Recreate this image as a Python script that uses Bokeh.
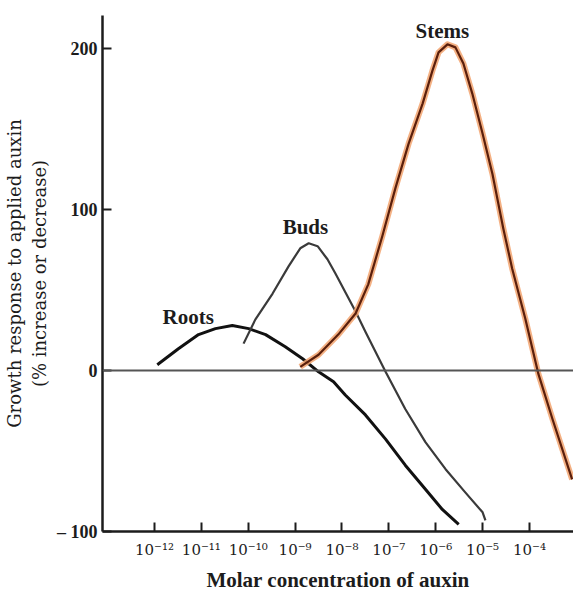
from bokeh.plotting import figure
from bokeh.models import Span, FixedTicker, ColumnDataSource
from bokeh.core.properties import value
from bokeh.embed import file_html
from bokeh.resources import INLINE

# log10 of molar auxin concentration vs growth response (%)
roots_logc = [-11.94, -11.49, -11.06, -10.70, -10.34, -9.99, -9.63, -9.21, -8.84, -8.50, -8.18,
              -7.93, -7.50, -7.07, -6.65, -6.22, -5.86, -5.51]
roots_resp = [3.6, 13.5, 22.3, 26.0, 27.9, 26.0, 22.3, 14.8, 7.3, -0.8, -7.0,
              -15.2, -27.6, -42.6, -58.8, -73.8, -86.3, -95.6]

buds_logc = [-10.10, -9.85, -9.48, -9.14, -8.89, -8.71, -8.52, -8.31, -8.14, -7.71, -7.50,
             -7.07, -6.65, -6.22, -5.79, -5.37, -5.00, -4.94]
buds_resp = [16.7, 31.6, 47.8, 64.7, 75.9, 79.0, 77.2, 69.1, 60.3, 36.6, 24.1,
             -0.8, -23.9, -44.5, -61.3, -75.7, -88.1, -93.1]

stems_logc = [-8.89, -8.50, -8.08, -7.71, -7.44, -7.14, -6.86, -6.58, -6.28, -6.07, -5.94, -5.75,
              -5.58, -5.41, -5.22, -5.00, -4.79, -4.56, -4.37, -4.09, -3.81, -3.51, -3.09]
stems_resp = [2.3, 9.8, 22.3, 35.4, 53.5, 83.4, 113.3, 140.8, 165.8, 186.3, 197.6, 202.6,
              200.7, 190.7, 172.0, 147.0, 122.1, 88.4, 63.4, 32.3, -2.1, -30.1, -67.6]

label_text = ["Roots", "Buds", "Stems"]
label_x = [-11.28, -8.78, -5.86]
label_y = [33.5, 89.0, 211.0]

x_ticks = [-12, -11, -10, -9, -8, -7, -6, -5, -4]
x_tick_labels = ["10⁻¹²", "10⁻¹¹", "10⁻¹⁰", "10⁻⁹", "10⁻⁸", "10⁻⁷", "10⁻⁶", "10⁻⁵", "10⁻⁴"]
y_ticks = [-100, 0, 100, 200]
y_tick_labels = ["– 100", "0", "100", "200"]

INK = "#1c1c1c"

p = figure(frame_width=471, frame_height=516,
           x_range=(-13.109, -3.061), y_range=(-100, 220.5),
           output_backend="svg", toolbar_location=None,
           min_border_left=99, min_border_right=0, min_border_top=15, min_border_bottom=55,
           background_fill_color="white", border_fill_color="white")
p.grid.visible = False
p.outline_line_color = None

for ax in (p.xaxis[0], p.yaxis[0]):
    ax.axis_line_width = 2.5
    ax.axis_line_color = INK
    ax.major_tick_line_color = INK
    ax.major_tick_line_width = 2
    ax.major_tick_in = 9
    ax.major_tick_out = 0
    ax.minor_tick_line_color = None
    ax.major_label_text_color = INK
    ax.axis_label_text_color = INK

p.xaxis.ticker = FixedTicker(ticks=x_ticks)
p.xaxis.major_label_overrides = dict(zip(x_ticks, x_tick_labels))
p.xaxis.major_label_text_font = "DejaVu Serif"
p.xaxis.major_label_text_font_size = "15px"
p.xaxis.major_label_standoff = 9
p.xaxis.axis_label = "Molar concentration of auxin"
p.xaxis.axis_label_text_font = "Liberation Serif"
p.xaxis.axis_label_text_font_style = "bold"
p.xaxis.axis_label_text_font_size = "21px"
p.xaxis.axis_label_standoff = 6

p.yaxis.ticker = FixedTicker(ticks=y_ticks)
p.yaxis.major_label_overrides = dict(zip(y_ticks, y_tick_labels))
p.yaxis.major_label_text_font = "Liberation Serif"
p.yaxis.major_label_text_font_style = "bold"
p.yaxis.major_label_text_font_size = "18px"
p.yaxis.major_label_standoff = 5
p.yaxis.axis_label = "Growth response to applied auxin\n(% increase or decrease)"
p.yaxis.axis_label_text_font = "DejaVu Serif"
p.yaxis.axis_label_text_font_style = "normal"
p.yaxis.axis_label_text_font_size = "18px"
p.yaxis.axis_label_standoff = 4

p.add_layout(Span(location=0, dimension="width", line_color="#555555", line_width=2))

p.line(roots_logc, roots_resp, line_color="#111111", line_width=3, line_join="round")
p.line(buds_logc, buds_resp, line_color="#3a3a3a", line_width=2.2, line_join="round")
p.line(stems_logc, stems_resp, line_color="#f2a36e", line_width=6, line_alpha=0.85, line_join="round")
p.line(stems_logc, stems_resp, line_color="#5a1f0c", line_width=2.2, line_join="round")

src = ColumnDataSource(dict(x=label_x, y=label_y, t=label_text))
p.text(x="x", y="y", text="t", source=src, text_font=value("Liberation Serif"),
       text_font_style="bold", text_font_size="21px", text_color=INK,
       text_align="center", text_baseline="middle")

open("out.html", "w").write(file_html(p, INLINE))
